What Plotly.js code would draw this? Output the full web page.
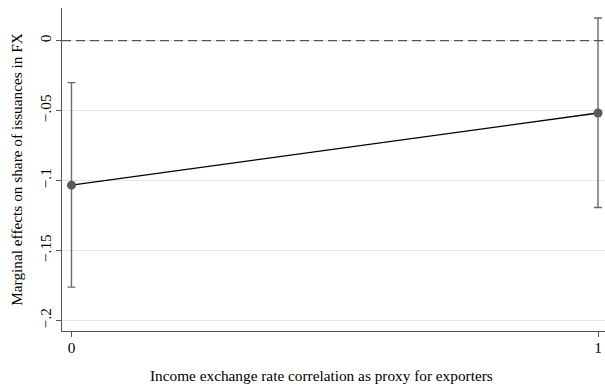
<!DOCTYPE html>
<html>
<head>
<meta charset="utf-8">
<script src="https://cdn.plot.ly/plotly-3.0.1.min.js"></script>
<style>
  html, body { margin: 0; padding: 0; background: #fff; }
  #chart { width: 605px; height: 385px; }
</style>
</head>
<body>
<div id="chart"></div>
<script>
// Marginal effects with 95% confidence intervals
const xValues = [0, 1];
const effects = [-0.1033, -0.0517];
const ciUpper = [-0.0300, 0.0162];
const ciLower = [-0.1762, -0.1193];

const yTickVals = [0, -0.05, -0.1, -0.15, -0.2];
const yTickText = ['0', '\u2212.05', '\u2212.1', '\u2212.15', '\u2212.2'];
const xTickVals = [0, 1];
const xTickText = ['0', '1'];

const xTitle = 'Income exchange rate correlation as proxy for exporters';
const yTitle = 'Marginal effects on share of issuances in FX';

const errPlus = effects.map((v, i) => ciUpper[i] - v);
const errMinus = effects.map((v, i) => v - ciLower[i]);

const serif = 'Liberation Serif, Times New Roman, serif';
const fs = 15.3;

const trace = {
  x: xValues,
  y: effects,
  type: 'scatter',
  mode: 'lines+markers',
  line: { color: '#000000', width: 1.3 },
  marker: { color: '#5a5a5a', size: 9 },
  error_y: {
    type: 'data',
    symmetric: false,
    array: errPlus,
    arrayminus: errMinus,
    color: '#6a6a6a',
    thickness: 1.4,
    width: 4
  },
  hoverinfo: 'x+y'
};

const layout = {
  width: 605,
  height: 385,
  margin: { l: 62, r: 0, t: 8, b: 54 },
  paper_bgcolor: '#ffffff',
  plot_bgcolor: '#ffffff',
  showlegend: false,
  font: { family: serif, size: fs, color: '#000000' },
  xaxis: {
    range: [-0.018, 1.0133],
    tickvals: xTickVals,
    ticktext: xTickText,
    showgrid: false,
    zeroline: false,
    showline: true,
    linecolor: '#555555',
    linewidth: 1.2,
    ticks: 'outside',
    ticklen: 5,
    tickcolor: '#555555',
    ticklabelstandoff: -3,
    tickfont: { family: serif, size: fs, color: '#000000' }
  },
  yaxis: {
    range: [-0.2076, 0.0234],
    tickvals: yTickVals,
    ticktext: yTickText,
    tickangle: -90,
    showgrid: true,
    gridcolor: '#e6e6e6',
    gridwidth: 1,
    zeroline: false,
    showline: true,
    linecolor: '#555555',
    linewidth: 1.2,
    ticks: 'outside',
    ticklen: 5,
    tickcolor: '#555555',
    ticklabelstandoff: -1,
    tickfont: { family: serif, size: fs, color: '#000000' },
    title: {
      text: yTitle,
      font: { family: serif, size: fs, color: '#000000' },
      standoff: 10
    }
  },
  annotations: [{
    text: xTitle,
    xref: 'paper', x: 0.477, xanchor: 'center',
    yref: 'paper', y: -0.139, yanchor: 'middle',
    showarrow: false,
    font: { family: serif, size: fs, color: '#000000' }
  }],
  shapes: [{
    type: 'line',
    xref: 'paper', x0: 0, x1: 1,
    yref: 'y', y0: 0, y1: 0,
    line: { color: '#555555', width: 1.3, dash: '9px,5px' }
  }]
};

Plotly.newPlot('chart', [trace], layout, { displayModeBar: false, staticPlot: true });
</script>
</body>
</html>
